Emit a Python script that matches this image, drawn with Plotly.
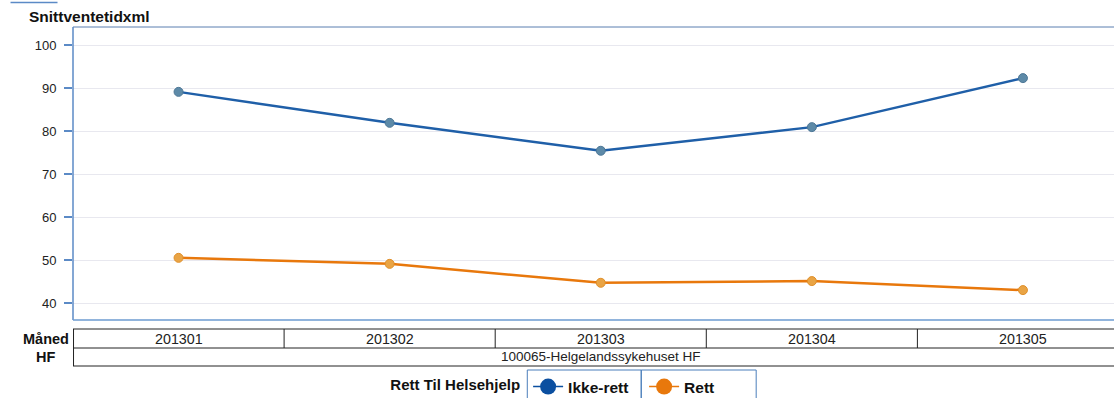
import plotly.graph_objects as go

months = ["201301", "201302", "201303", "201304", "201305"]
ikke_rett = [89.1, 81.9, 75.4, 80.9, 92.3]
rett = [50.5, 49.1, 44.7, 45.1, 43.0]
hf_label = "100065-Helgelandssykehuset HF"
y_ticks = [40, 50, 60, 70, 80, 90, 100]

W, H = 1114, 398
L, T, B = 72.5, 27, 78
plot_h = H - T - B
plot_w = W - L
CAT_W = 211.2  # pixel width of one month column

FONT = "Liberation Sans, Arial, sans-serif"
BLUE_LINE = "#1f5fa8"
ORANGE_LINE = "#e8780c"
AXIS_BLUE = "#5b8ac6"


def py(px):
    """pixel row -> paper y"""
    return (H - B - px) / plot_h


def pxx(px):
    """pixel column -> paper x"""
    return (px - L) / plot_w


fig = go.Figure()

fig.add_trace(go.Scatter(
    x=list(range(len(months))), y=ikke_rett, mode="lines+markers",
    line=dict(color=BLUE_LINE, width=2.5),
    marker=dict(size=9, color="#5d8aa8", line=dict(color="#4d7796", width=1)),
    showlegend=False, name="Ikke-rett"))
fig.add_trace(go.Scatter(
    x=list(range(len(months))), y=rett, mode="lines+markers",
    line=dict(color=ORANGE_LINE, width=2.5),
    marker=dict(size=9, color="#e9a445", line=dict(color="#e08f2a", width=1)),
    showlegend=False, name="Rett"))

# legend entries
fig.add_trace(go.Scatter(
    x=[None], y=[None], mode="lines+markers", name="<b>Ikke-rett</b>",
    line=dict(color="#0b4fa0", width=1.5),
    marker=dict(size=16, color="#0b4fa0")))
fig.add_trace(go.Scatter(
    x=[None], y=[None], mode="lines+markers", name="<b>Rett</b>",
    line=dict(color=ORANGE_LINE, width=1.5),
    marker=dict(size=16, color=ORANGE_LINE)))

shapes = []
# plot frame: top, left, bottom
shapes.append(dict(type="line", xref="paper", yref="paper", x0=0, x1=1.01, y0=1, y1=1,
                   line=dict(color="#5a7fb0", width=1)))
shapes.append(dict(type="line", xref="paper", yref="paper", x0=0, x1=0, y0=0, y1=1,
                   line=dict(color=AXIS_BLUE, width=1.5)))
shapes.append(dict(type="line", xref="paper", yref="paper", x0=0, x1=1.01, y0=0, y1=0,
                   line=dict(color="#6d9bd1", width=1.5)))
# small tab line top-left
shapes.append(dict(type="line", xref="paper", yref="paper", x0=pxx(10), x1=pxx(57),
                   y0=py(2.5), y1=py(2.5), line=dict(color="#5b8ac6", width=1.5)))

# category table below the axis
row_top, row_mid, row_bot = py(329), py(348), py(366)
for y in (row_top, row_mid, row_bot):
    shapes.append(dict(type="line", xref="paper", yref="paper", x0=0, x1=1.02,
                       y0=y, y1=y, line=dict(color="#222222", width=1)))
shapes.append(dict(type="line", xref="paper", yref="paper", x0=0.0005, x1=0.0005,
                   y0=row_top, y1=row_bot, line=dict(color="#222222", width=1)))
for i in range(len(months) - 1):
    xb = pxx(L + (i + 1) * CAT_W)
    shapes.append(dict(type="line", xref="paper", yref="paper", x0=xb, x1=xb,
                       y0=row_top, y1=row_mid, line=dict(color="#222222", width=1)))

# legend item boxes
for x0, x1 in ((527, 641), (641, 756)):
    shapes.append(dict(type="rect", xref="paper", yref="paper", x0=pxx(x0), x1=pxx(x1),
                       y0=py(405), y1=py(370), line=dict(color="#4a7ebb", width=1)))

annotations = [
    dict(text="<b>Snittventetidxml</b>", xref="paper", yref="paper",
         x=pxx(26), y=py(16), xanchor="left", yanchor="middle", showarrow=False,
         font=dict(size=15.5, color="#111111", family=FONT)),
    dict(text="<b>Måned</b>", xref="paper", yref="paper", x=pxx(45), y=py(338.5),
         xanchor="center", yanchor="middle", showarrow=False,
         font=dict(size=14.5, color="#111111", family=FONT)),
    dict(text="<b>HF</b>", xref="paper", yref="paper", x=pxx(45), y=py(357),
         xanchor="center", yanchor="middle", showarrow=False,
         font=dict(size=14.5, color="#111111", family=FONT)),
    dict(text=hf_label, xref="x", yref="paper", x=2, y=py(357),
         xanchor="center", yanchor="middle", showarrow=False,
         font=dict(size=13.5, color="#222222", family=FONT)),
]
for i, m in enumerate(months):
    annotations.append(dict(text=m, xref="x", yref="paper", x=i, y=py(338.5),
                            xanchor="center", yanchor="middle", showarrow=False,
                            font=dict(size=14.3, color="#222222", family=FONT)))

fig.update_layout(
    width=W, height=H,
    margin=dict(l=L, r=0, t=T, b=B, pad=0, autoexpand=False),
    paper_bgcolor="white", plot_bgcolor="white",
    font=dict(family=FONT, size=12, color="#222222"),
    xaxis=dict(range=[-0.5, -0.5 + plot_w / CAT_W], showgrid=False, zeroline=False,
               showticklabels=False, showline=False, ticks=""),
    yaxis=dict(range=[40 - 17 / 4.3, 100 + 18 / 4.3], tickvals=y_ticks,
               showgrid=True, gridcolor="#e8e8ef", gridwidth=1, zeroline=False,
               showline=False, ticks="outside", ticklen=8, tickcolor=AXIS_BLUE,
               tickwidth=1.5, ticklabelstandoff=5,
               tickfont=dict(size=13, color="#222222", family=FONT)),
    shapes=shapes, annotations=annotations,
    showlegend=True,
    legend=dict(orientation="h", x=pxx(388), y=py(387), xanchor="left", yanchor="middle",
                title=dict(text="<b>Rett Til Helsehjelp</b>", side="left",
                           font=dict(size=15, color="#111111", family=FONT)),
                font=dict(size=15.5, color="#111111", family=FONT),
                bgcolor="rgba(0,0,0,0)", borderwidth=0, itemwidth=30,
                entrywidth=71, tracegroupgap=0),
)

fig.write_html("out.html")
